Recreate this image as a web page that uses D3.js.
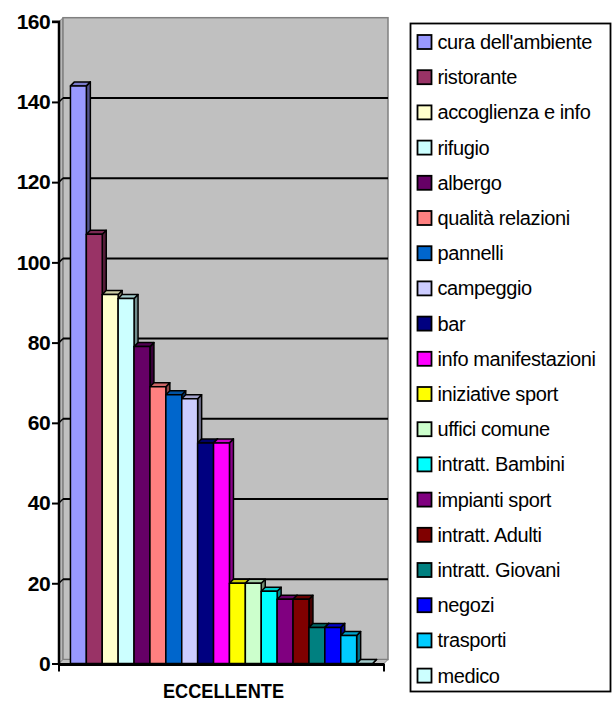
<!DOCTYPE html>
<html><head><meta charset="utf-8">
<script src="https://cdn.jsdelivr.net/npm/d3@7"></script>
<style>
html,body{margin:0;padding:0;background:#fff;}
svg{display:block;font-family:"Liberation Sans",Arial,sans-serif;}
</style></head>
<body>
<svg id="c" width="613" height="702"></svg>
<script>
const categories = ["cura dell'ambiente","ristorante","accoglienza e info","rifugio","albergo","qualità relazioni","pannelli","campeggio","bar","info manifestazioni","iniziative sport","uffici comune","intratt. Bambini","impianti sport","intratt. Adulti","intratt. Giovani","negozi","trasporti","medico"];
const values = [144,107,92,91,79,69,67,66,55,55,20,20,18,16,16,9,9,7,0];
const colors = ["#9999FF","#993366","#FFFFCC","#CCFFFF","#660066","#FF8080","#0066CC","#CCCCFF","#000080","#FF00FF","#FFFF00","#CCFFCC","#00FFFF","#800080","#800000","#008080","#0000FF","#00CCFF","#CCFFFF"];
const yTicks = [0,20,40,60,80,100,120,140,160];
const groupLabel = "ECCELLENTE";

const svg = d3.select("#c");
const y = d3.scaleLinear().domain([0,160]).range([663.5,21.7]);
const x = d3.scaleBand().domain(categories).range([59,384]).paddingInner(0).paddingOuter(0.72);
const dx = 4, dy = -4;
const x0 = 59, x1 = 384;

// side wall
svg.append("polygon")
  .attr("points", [[x0,y(160)],[x0+dx,y(160)+dy],[x0+dx,y(0)+dy],[x0,y(0)]].map(p=>p.join(",")).join(" "))
  .attr("fill","#b8b8b8").attr("stroke","#808080").attr("stroke-width",1);
// back wall
svg.append("rect")
  .attr("x",x0+dx).attr("y",y(160)+dy).attr("width",x1-x0).attr("height",y(0)-y(160))
  .attr("fill","#C0C0C0").attr("stroke","#808080").attr("stroke-width",1.5);
// floor
svg.append("polygon")
  .attr("points", [[x0,y(0)],[x0+dx,y(0)+dy],[x1+dx,y(0)+dy],[x1,y(0)]].map(p=>p.join(",")).join(" "))
  .attr("fill","#C0C0C0").attr("stroke","#808080").attr("stroke-width",1);

// gridlines on back wall
svg.append("g").selectAll("line").data(yTicks.filter(d=>d>0 && d<160)).join("line")
  .attr("x1",x0+dx).attr("x2",x1+dx)
  .attr("y1",d=>y(d)+dy).attr("y2",d=>y(d)+dy)
  .attr("stroke","#000").attr("stroke-width",2);
svg.append("g").selectAll("line").data(yTicks.filter(d=>d>0 && d<160)).join("line")
  .attr("x1",x0).attr("x2",x0+dx)
  .attr("y1",d=>y(d)).attr("y2",d=>y(d)+dy)
  .attr("stroke","#000").attr("stroke-width",1.5);

// bars
function shade(c,k){const r=d3.rgb(c);return d3.rgb(r.r*k,r.g*k,r.b*k).formatHex();}
const bars = svg.append("g");
categories.forEach((c,i)=>{
  const v = values[i];
  const bx = x(c), bw = x.bandwidth(), top = y(v), bot = y(0);
  const g = bars.append("g").attr("stroke","#000").attr("stroke-width",1.5).attr("stroke-linejoin","round");
  g.append("polygon").attr("points",[[bx+bw,top],[bx+bw+dx,top+dy],[bx+bw+dx,bot+dy],[bx+bw,bot]].map(p=>p.join(",")).join(" "))
    .attr("fill",shade(colors[i],0.55));
  g.append("polygon").attr("points",[[bx,top],[bx+dx,top+dy],[bx+bw+dx,top+dy],[bx+bw,top]].map(p=>p.join(",")).join(" "))
    .attr("fill",shade(colors[i],0.8));
  g.append("rect").attr("x",bx).attr("y",top).attr("width",bw).attr("height",Math.max(0,bot-top))
    .attr("fill",colors[i]);
});

// y axis
const yAxis = d3.axisLeft(y).tickValues(yTicks).tickSize(7).tickPadding(2);
const ya = svg.append("g").attr("transform",`translate(${x0},0)`).call(yAxis);
ya.select(".domain").attr("stroke","#000").attr("stroke-width",2.5).attr("d",`M-7,${y(160)}H0V${y(0)}`);
ya.selectAll(".tick line").attr("stroke","#000").attr("stroke-width",2);
ya.selectAll(".tick text").attr("fill","#000").attr("font-size",21).attr("font-weight","bold")
  .attr("font-family","'Liberation Sans',Arial,sans-serif").attr("letter-spacing","-0.6");

// category axis line
svg.append("line").attr("x1",x0).attr("x2",x1).attr("y1",y(0)+1).attr("y2",y(0)+1)
  .attr("stroke","#000").attr("stroke-width",3);
svg.append("g").selectAll("line").data([x0,x1]).join("line")
  .attr("x1",d=>d).attr("x2",d=>d).attr("y1",y(0)).attr("y2",y(0)+8)
  .attr("stroke","#000").attr("stroke-width",2);

svg.append("text").attr("x",223.5).attr("y",698).attr("text-anchor","middle")
  .attr("font-size",21).attr("font-weight","bold").attr("textLength",121).attr("lengthAdjust","spacingAndGlyphs")
  .text(groupLabel);

// legend
svg.append("rect").attr("x",410.5).attr("y",23.5).attr("width",200).attr("height",668)
  .attr("fill","#fff").attr("stroke","#000").attr("stroke-width",1.8);
const lg = svg.append("g");
categories.forEach((c,i)=>{
  const cy = 42 + i*35.2;
  lg.append("rect").attr("x",417.5).attr("y",cy-7).attr("width",14).attr("height",14)
    .attr("fill",colors[i]).attr("stroke","#000").attr("stroke-width",1.8);
  lg.append("text").attr("x",437.5).attr("y",cy+7).attr("font-size",20).attr("letter-spacing","-0.4").attr("fill","#000").text(c);
});
</script>
</body></html>
